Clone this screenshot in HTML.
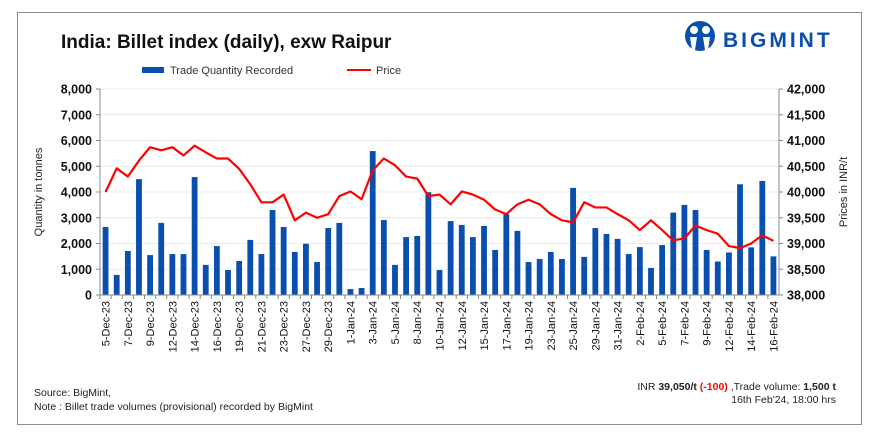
<!DOCTYPE html>
<html><head><meta charset="utf-8"><style>
body{margin:0;background:#fff;width:884px;height:444px;overflow:hidden;font-family:"Liberation Sans",sans-serif}
svg{display:block}
</style></head><body>
<svg width="884" height="444" xmlns="http://www.w3.org/2000/svg" id="chart">
<rect x="17.5" y="12.5" width="844" height="412" fill="#fff" stroke="#8c8c8c" stroke-width="1"/>
<text x="61" y="48" font-size="19" font-weight="bold" fill="#111">India: Billet index (daily), exw Raipur</text>
<g>
<circle cx="700" cy="36" r="15" fill="#0a4fad"/>
<circle cx="694" cy="30" r="4" fill="#fff"/><circle cx="706" cy="30" r="4" fill="#fff"/>
<path d="M690 37 L692 50 L695 50 L697 37 Z M703 37 L705 50 L708 50 L710 37 Z" fill="#fff"/>
<text x="723" y="47" font-size="21" font-weight="bold" fill="#0a4fad" letter-spacing="3">BIGMINT</text>
</g>
<g>
<rect x="142" y="67" width="22" height="6" fill="#0a4fad"/>
<text x="170" y="74" font-size="11" fill="#333">Trade Quantity Recorded</text>
<line x1="347" y1="70" x2="371" y2="70" stroke="#f00" stroke-width="2"/>
<text x="376" y="74" font-size="11" fill="#333">Price</text>
</g>
<g id="grid"></g><g id="bars"></g><g id="line"></g><g id="axes"></g>
<text transform="translate(42,192) rotate(-90)" text-anchor="middle" font-size="11" fill="#222">Quantity in tonnes</text>
<text transform="translate(847,192) rotate(-90)" text-anchor="middle" font-size="11" fill="#222">Prices in INR/t</text>
<text x="34" y="396" font-size="10.5" fill="#222">Source: BigMint,</text>
<text x="34" y="410" font-size="10.5" fill="#222">Note : Billet trade volumes (provisional) recorded by BigMint</text>
<text x="836" y="390" text-anchor="end" font-size="10.5" fill="#222">INR <tspan font-weight="bold">39,050/t</tspan> <tspan font-weight="bold" fill="#f00">(-100)</tspan> ,Trade volume: <tspan font-weight="bold">1,500 t</tspan></text>
<text x="836" y="403" text-anchor="end" font-size="10.5" fill="#222">16th Feb'24, 18:00 hrs</text>
</svg>
<script>
const quantities=[2640,780,1710,4500,1550,2800,1590,1590,4580,1170,1900,970,1320,2140,1590,3300,2640,1670,1990,1280,2600,2800,230,270,5590,2910,1170,2250,2290,3990,970,2870,2720,2250,2680,1750,3140,2490,1280,1400,1670,1400,4160,1480,2600,2370,2180,1590,1860,1050,1940,3200,3500,3300,1750,1300,1650,4300,1850,4430,1500];
const prices=[40000,40460,40300,40610,40870,40810,40870,40710,40900,40770,40650,40650,40450,40150,39800,39800,39950,39450,39600,39500,39570,39920,40010,39860,40420,40650,40520,40300,40260,39920,39950,39760,40010,39950,39850,39660,39570,39760,39850,39760,39570,39450,39410,39800,39700,39700,39570,39450,39260,39450,39260,39060,39100,39350,39260,39190,38950,38910,39000,39160,39050];
const xLabels=["5-Dec-23","7-Dec-23","9-Dec-23","12-Dec-23","14-Dec-23","16-Dec-23","19-Dec-23","21-Dec-23","23-Dec-23","27-Dec-23","29-Dec-23","1-Jan-24","3-Jan-24","5-Jan-24","8-Jan-24","10-Jan-24","12-Jan-24","15-Jan-24","17-Jan-24","19-Jan-24","23-Jan-24","25-Jan-24","29-Jan-24","31-Jan-24","2-Feb-24","5-Feb-24","7-Feb-24","9-Feb-24","12-Feb-24","14-Feb-24","16-Feb-24"];
const leftTicks=[0,1000,2000,3000,4000,5000,6000,7000,8000];
const rightTicks=[38000,38500,39000,39500,40000,40500,41000,41500,42000];
const NS="http://www.w3.org/2000/svg";
const X0=100,X1=779,Y0=295,Y1=89;
const band=(X1-X0)/quantities.length;
const xc=i=>X0+band*(i+0.5);
const yL=v=>Y0-(v-0)/8000*(Y0-Y1);
const yR=v=>Y0-(v-38000)/4000*(Y0-Y1);
function mk(tag,attrs,parent,txt){const e=document.createElementNS(NS,tag);for(const k in attrs)e.setAttribute(k,attrs[k]);if(txt!==undefined)e.textContent=txt;document.getElementById(parent).appendChild(e);return e;}
const fmt=v=>v.toLocaleString('en-US');
leftTicks.forEach((v,i)=>{
  if(v>0){const g=mk('line',{x1:X0,x2:X1,y1:yL(v),y2:yL(v),stroke:'#ececec','stroke-width':1},'grid');
  
  }
  const t=mk('text',{x:X0-8,y:yL(v)+4.5,'text-anchor':'end','font-size':12.5,'font-weight':'bold',fill:'#111'},'axes',fmt(v));
  
  
  const tk=mk('line',{x1:X0-4,x2:X0,y1:yL(v),y2:yL(v),stroke:'#888'},'axes');
  
  
});
rightTicks.forEach(v=>{
  const t=mk('text',{x:X1+8,y:yR(v)+4.5,'font-size':12.5,'font-weight':'bold',fill:'#111'},'axes',fmt(v));
  
  
  const tk=mk('line',{x1:X1,x2:X1+4,y1:yR(v),y2:yR(v),stroke:'#888'},'axes');
  
  
});
quantities.forEach((v,i)=>{
  const b=mk('rect',{x:xc(i)-2.9,y:yL(v),width:5.8,height:Y0-yL(v),fill:'#0a4fad'},'bars');
  
  
  const tk=mk('line',{x1:X0+band*i,x2:X0+band*i,y1:Y0,y2:Y0+4,stroke:'#888'},'axes');
  
  
});
xLabels.forEach((s,j)=>{
  const x=xc(j*2)+4;
  const t=mk('text',{transform:`translate(${x},301) rotate(-90)`,'text-anchor':'end','font-size':11,fill:'#111'},'axes',s);
  
  
});
const pl=mk('polyline',{points:prices.map((v,i)=>xc(i)+','+yR(v)).join(' '),fill:'none',stroke:'#f00','stroke-width':2.2,'stroke-linejoin':'round'},'line');


const la=mk('line',{x1:X0,x2:X0,y1:Y1,y2:Y0,stroke:'#888'},'axes');


const ra=mk('line',{x1:X1,x2:X1,y1:Y1,y2:Y0,stroke:'#888'},'axes');


const ba=mk('line',{x1:X0,x2:X1,y1:Y0,y2:Y0,stroke:'#888'},'axes');


</script>
</body></html>
